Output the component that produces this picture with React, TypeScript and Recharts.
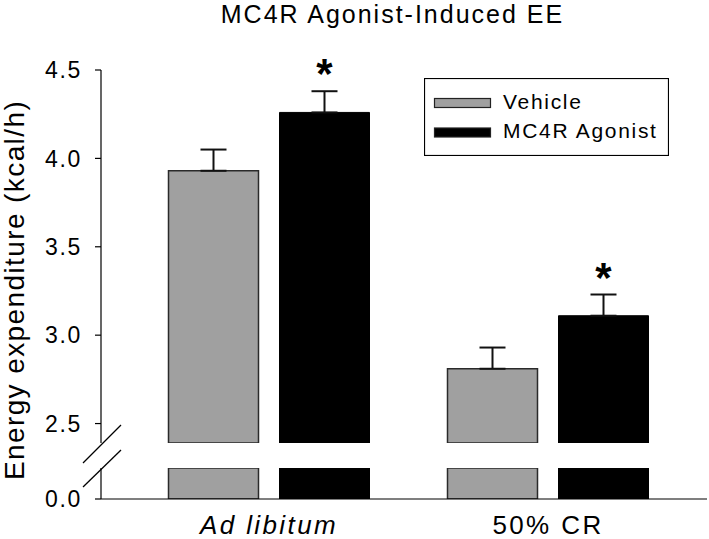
import React from 'react';
import { BarChart, Bar, XAxis, YAxis, ErrorBar, LabelList, Legend } from 'recharts';

const GROUPS = ['Ad libitum', '50% CR'];
const GROUP_ITALIC = [true, false];
const SERIES = ['Vehicle', 'MC4R Agonist'];
const VEHICLE = [3.93, 2.81];
const VEHICLE_SEM = [0.12, 0.12];
const AGONIST = [4.26, 3.11];
const AGONIST_SEM = [0.12, 0.12];
const AGONIST_SIG = ['*', '*'];
const UPPER_TICKS = [2.5, 3.0, 3.5, 4.0, 4.5];
const LOWER_TICKS = [0];

const data = GROUPS.map((g, i) => ({
  group: g,
  italic: GROUP_ITALIC[i],
  vehicle: VEHICLE[i],
  vehicleErr: [0, VEHICLE_SEM[i]],
  agonist: AGONIST[i],
  agonistErr: [0, AGONIST_SEM[i]],
  sig: AGONIST_SIG[i],
}));

const FONT = '"Liberation Sans", Arial, Helvetica, sans-serif';
const GRAY = '#a0a0a0';
const X_PAD = { left: 28.5, right: 19.5 };

const YTick = (props: any) => {
  const { x, y, payload } = props;
  return (
    <text x={x} y={y} dy="0.36em" textAnchor="end" fontSize={23} fill="#000" fontFamily={FONT} style={{ letterSpacing: 1.7 }}>
      {Number(payload.value).toFixed(1)}
    </text>
  );
};

const XTick = (props: any) => {
  const { x, y, payload } = props;
  const row = data.find((d) => d.group === payload.value);
  return (
    <text x={x} y={y} dy={35} textAnchor="middle" fontSize={26} fill="#000" fontFamily={FONT}
      fontStyle={row && row.italic ? 'italic' : 'normal'} style={{ letterSpacing: 2.4 }}>
      {payload.value}
    </text>
  );
};

// lower stub of each bar, cut at the top of the small 0-panel
const StubBar = (props: any) => {
  const { x, y, width, height, fill, stroke, strokeWidth, background } = props;
  const top = background ? Math.max(y, background.y) : Math.max(y, 0);
  const bottom = y + height;
  return <rect x={x} y={top} width={width} height={Math.max(bottom - top, 0)} fill={fill} stroke={stroke} strokeWidth={strokeWidth} />;
};

const SigLabel = (props: any) => {
  const { x, y, width, value } = props;
  if (!value) return null;
  return (
    <text x={x + width / 2} y={y - 24} textAnchor="middle" fontSize={42} fontWeight="bold" fill="#000" fontFamily={FONT}>
      {value}
    </text>
  );
};

const LegendBox = (props: any) => {
  const items = [...(props.payload || [])].sort((a: any, b: any) => SERIES.indexOf(a.value) - SERIES.indexOf(b.value));
  return (
    <svg width={245} height={78} style={{ display: 'block' }}>
      <rect x={0.5} y={0.5} width={244} height={77} fill="#fff" stroke="#000" strokeWidth={1.2} />
      {items.map((p: any, i: number) => (
        <g key={p.value}>
          <rect x={10.5} y={20.5 + i * 29.5} width={56} height={9} fill={p.color} stroke="#222" strokeWidth={1.2} />
          <text x={79} y={31 + i * 29} fontSize={21} fill="#000" fontFamily={FONT} style={{ letterSpacing: 1.7 }}>
            {p.value}
          </text>
        </g>
      ))}
    </svg>
  );
};

export default function App() {
  return (
    <div style={{ position: 'absolute', left: 0, top: 0, width: 709, height: 539, background: '#fff', fontFamily: FONT }}>
      {/* upper panel: 2.5 - 4.5 */}
      <div style={{ position: 'absolute', left: 0, top: 0 }}>
        <BarChart width={709} height={443} data={data} margin={{ top: 70, right: 2, left: 0, bottom: 0 }} barSize={90} barGap={21}>
          <XAxis dataKey="group" hide padding={X_PAD} />
          <YAxis width={101} domain={[2.39, 4.5]} ticks={UPPER_TICKS} allowDataOverflow
            axisLine={{ stroke: '#000', strokeWidth: 1.2 }} tickLine={{ stroke: '#000', strokeWidth: 1.2 }}
            tickSize={6} tickMargin={13} tick={<YTick />} />
          <Legend layout="horizontal" verticalAlign="middle" align="center" content={<LegendBox />}
            wrapperStyle={{ left: 424, top: 78, width: 245, height: 78 }} />
          <Bar dataKey="vehicle" name={SERIES[0]} fill={GRAY} stroke="#2a2a2a" strokeWidth={1.5} isAnimationActive={false}>
            <ErrorBar dataKey="vehicleErr" direction="y" width={13} stroke="#111" strokeWidth={2} />
          </Bar>
          <Bar dataKey="agonist" name={SERIES[1]} fill="#000" stroke="#000" strokeWidth={1} isAnimationActive={false}>
            <ErrorBar dataKey="agonistErr" direction="y" width={13} stroke="#111" strokeWidth={2} />
            <LabelList dataKey="sig" content={<SigLabel />} />
          </Bar>
        </BarChart>
      </div>

      {/* lower panel: 0 */}
      <div style={{ position: 'absolute', left: 0, top: 468 }}>
        <BarChart width={709} height={71} data={data} margin={{ top: 0, right: 2, left: 0, bottom: 0 }} barSize={90} barGap={21}>
          <XAxis dataKey="group" padding={X_PAD} height={40} axisLine={{ stroke: '#000', strokeWidth: 1.2 }}
            tickLine={false} tickSize={0} tickMargin={0} tick={<XTick />} interval={0} />
          <YAxis width={101} domain={[0, 0.175]} ticks={LOWER_TICKS} allowDataOverflow
            axisLine={{ stroke: '#000', strokeWidth: 1.2 }} tickLine={{ stroke: '#000', strokeWidth: 1.2 }}
            tickSize={6} tickMargin={13} tick={<YTick />} />
          <Bar dataKey="vehicle" name={SERIES[0]} fill={GRAY} stroke="#2a2a2a" strokeWidth={1.5} shape={<StubBar />} isAnimationActive={false} />
          <Bar dataKey="agonist" name={SERIES[1]} fill="#000" stroke="#000" strokeWidth={1} shape={<StubBar />} isAnimationActive={false} />
        </BarChart>
      </div>

      {/* title, axis title and break marks */}
      <svg width={709} height={539} style={{ position: 'absolute', left: 0, top: 0, pointerEvents: 'none' }}>
        <text x={392.5} y={23} textAnchor="middle" fontSize={25} fill="#000" fontFamily={FONT} style={{ letterSpacing: 2 }}>
          MC4R Agonist-Induced EE
        </text>
        <text transform="translate(23.5,290) rotate(-90)" textAnchor="middle" fontSize={28} fill="#000" fontFamily={FONT} style={{ letterSpacing: 1.4 }}>
          Energy expenditure (kcal/h)
        </text>
        <line x1={83} y1={463} x2={121} y2={425} stroke="#000" strokeWidth={1.3} />
        <line x1={83} y1={487} x2={121} y2={450} stroke="#000" strokeWidth={1.3} />
      </svg>
    </div>
  );
}
